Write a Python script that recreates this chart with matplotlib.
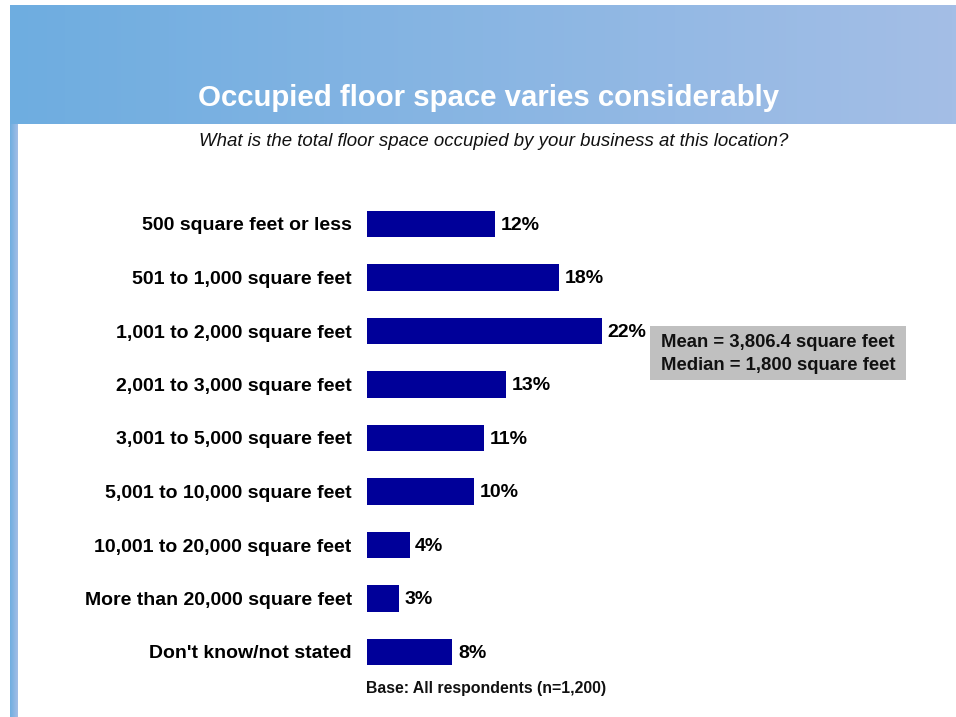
import numpy as np
import matplotlib.pyplot as plt
from matplotlib.colors import LinearSegmentedColormap

plt.rcParams['font.family'] = ['Liberation Sans', 'DejaVu Sans']

categories = ['500 square feet or less', '501 to 1,000 square feet',
              '1,001 to 2,000 square feet', '2,001 to 3,000 square feet',
              '3,001 to 5,000 square feet', '5,001 to 10,000 square feet',
              '10,001 to 20,000 square feet', 'More than 20,000 square feet',
              "Don't know/not stated"]
shares = [12, 18, 22, 13, 11, 10, 4, 3, 8]

title = 'Occupied floor space varies considerably'
question = 'What is the total floor space occupied by your business at this location?'
stats_note = 'Mean = 3,806.4 square feet\nMedian = 1,800 square feet'
base_note = 'Base: All respondents (n=1,200)'

W, H = 956, 717
fig = plt.figure(figsize=(W / 100, H / 100), dpi=100)
fig.patch.set_facecolor('white')


def px_axes(x0, y0, x1, y1):
    # pixel box (top-left origin) -> figure axes
    return fig.add_axes([x0 / W, 1 - y1 / H, (x1 - x0) / W, (y1 - y0) / H])


blue_grad = LinearSegmentedColormap.from_list('hdr', ['#6EADE0', '#A4BEE6'])
ramp = np.linspace(0, 1, 256).reshape(1, -1)

# header banner
hdr = px_axes(10, 5, 956, 124)
hdr.imshow(ramp, cmap=blue_grad, aspect='auto', extent=[0, 1, 0, 1])
hdr.set_axis_off()
fig.text(489 / W, 1 - 98 / H, title, color='white', fontsize=21.2,
         fontweight='bold', ha='center', va='center')

# left side strip
strip = px_axes(10, 124, 18, 717)
strip.imshow(ramp, cmap=blue_grad, aspect='auto', extent=[0, 1, 0, 1])
strip.set_axis_off()

fig.text(494 / W, 1 - 141 / H, question, fontsize=13.4, style='italic',
         ha='center', va='center', color='#111111')

# bars
ax = px_axes(367, 197.25, 367 + 10.67 * 30, 678.75)
y = np.arange(len(categories))
ax.barh(y, shares, height=0.5, color='#000099')
ax.set_xlim(0, 30)
ax.set_ylim(len(categories) - 0.5, -0.5)
ax.set_yticks(y)
ax.set_yticklabels(categories, fontsize=14, fontweight='bold')
ax.tick_params(axis='y', length=0, pad=11)
ax.set_xticks([])
for s in ax.spines.values():
    s.set_visible(False)
ax.patch.set_alpha(0)
for yi, v in zip(y, shares):
    ax.annotate(f'{v}%', (v, yi), xytext=(4, -1), textcoords='offset points',
                ha='left', va='center', fontsize=14, fontweight='bold')

# stats box
fig.patches.append(plt.Rectangle((650 / W, 1 - 380 / H), 256 / W, 54 / H,
                                 transform=fig.transFigure,
                                 facecolor='#C0C0C0', edgecolor='none'))
fig.text(778 / W, 1 - 354 / H, stats_note, fontsize=13.3, fontweight='bold',
         ha='center', va='center', linespacing=1.45, color='#111111')

fig.text(486 / W, 1 - 689 / H, base_note, fontsize=11.4, fontweight='bold',
         ha='center', va='center', color='#111111')

fig.savefig('out.png', dpi=100)
